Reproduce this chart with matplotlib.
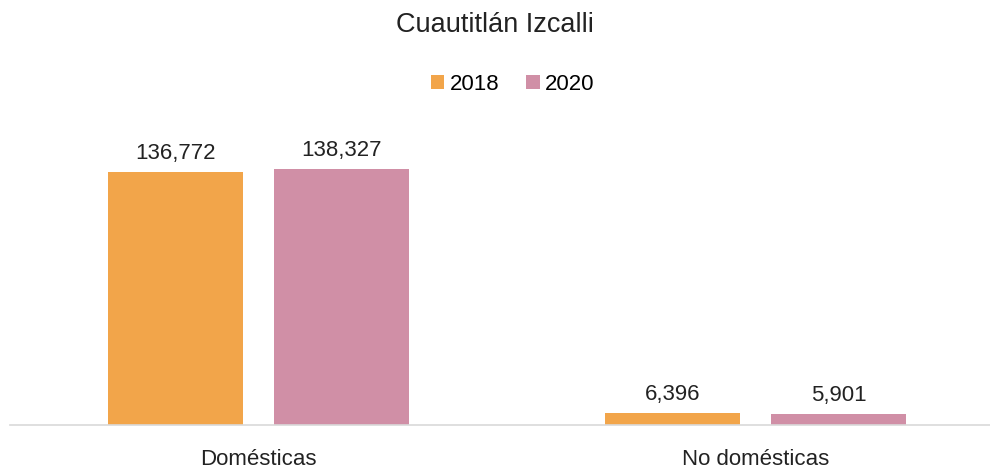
import numpy as np
import matplotlib
matplotlib.use("Agg")
import matplotlib.pyplot as plt

plt.rcParams['font.family'] = ['Liberation Sans', 'DejaVu Sans']

# datos
categorias = ["Domésticas", "No domésticas"]
series = ["2018", "2020"]
v2018 = [136772, 6396]
v2020 = [138327, 5901]
colores = ["#F2A54A", "#D08FA6"]

fig = plt.figure(figsize=(9.9, 4.68), dpi=100)
ax = fig.add_axes([10/990, 1-425/468, 980/990, 315/468])

x = np.arange(len(categorias))
ancho = 0.27
off = 0.167
b1 = ax.bar(x - off, v2018, ancho, color=colores[0], label=series[0])
b2 = ax.bar(x + off, v2020, ancho, color=colores[1], label=series[1])

for barras in (b1, b2):
    ax.bar_label(barras, labels=[f"{v:,}" for v in barras.datavalues],
                 padding=6, fontsize=16, color="#222222")

ax.set_xlim(-0.5, 1.472)
ax.set_ylim(0, 170200)
ax.set_yticks([])
ax.set_xticks(x)
ax.set_xticklabels(categorias, fontsize=16, color="#222222")
ax.tick_params(axis="x", length=0, pad=17)
for s in ["top", "right", "left"]:
    ax.spines[s].set_visible(False)
ax.spines["bottom"].set_color("#D9D9D9")
ax.spines["bottom"].set_linewidth(1.2)

fig.text(0.5, 1-25/468, "Cuautitlán Izcalli", ha="center", va="center",
         fontsize=19.5, color="#222222")
fig.legend(loc="center", bbox_to_anchor=(0.518, 1-84/468), ncol=2, frameon=False,
           fontsize=16, handlelength=0.6, handleheight=0.6, handletextpad=0.25,
           columnspacing=1.2)

fig.savefig("out.png", dpi=100)
